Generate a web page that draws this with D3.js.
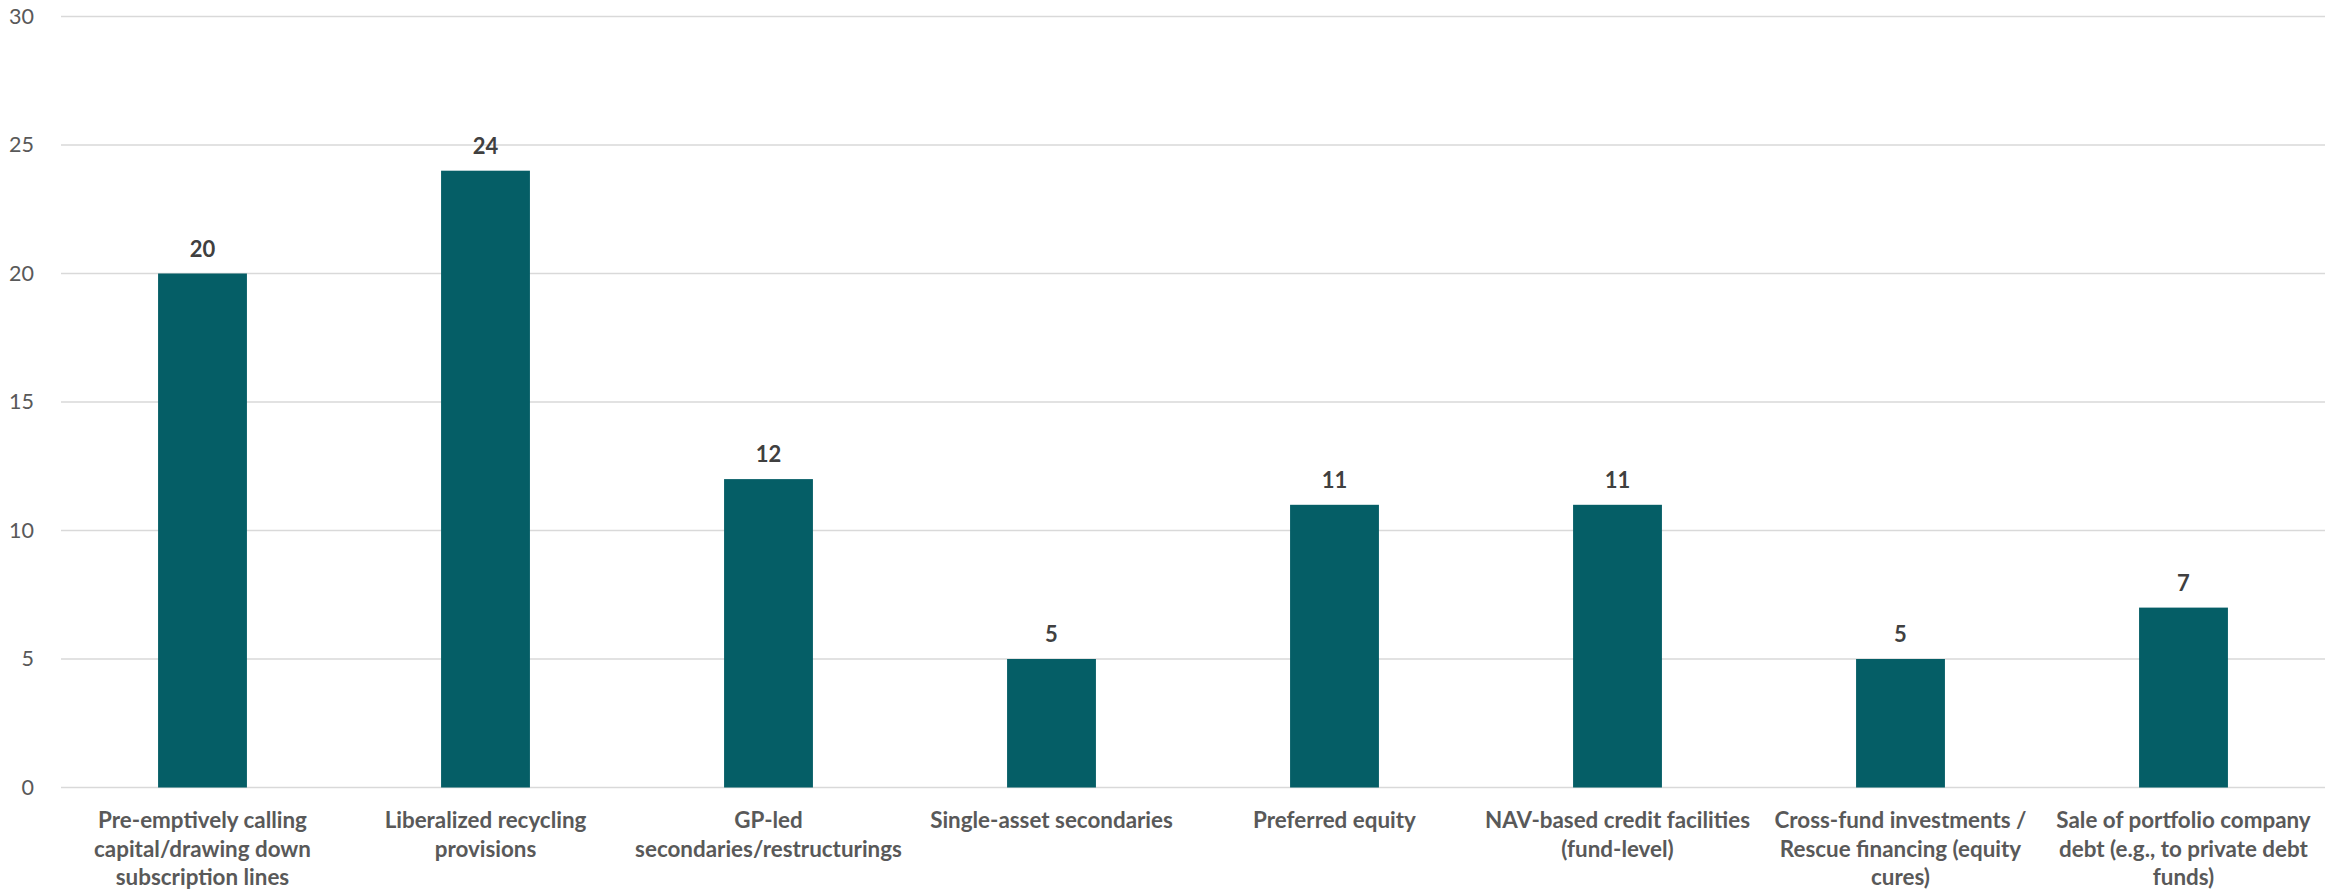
<!DOCTYPE html>
<html>
<head>
<meta charset="utf-8">
<script src="https://cdn.jsdelivr.net/npm/d3@7"></script>
<style>
  body { margin: 0; background: #fff; }
  svg text { font-family: Lato, "Open Sans", sans-serif; }
</style>
</head>
<body>
<div id="chart"></div>
<script>
var width = 2343,
    height = 891,
    margin = {top: 16.5, right: 18, bottom: 103.5, left: 61};

// categories, as wrapped on the axis
var categories = [
  "Pre-emptively calling capital/drawing down subscription lines",
  "Liberalized recycling provisions",
  "GP-led secondaries/restructurings",
  "Single-asset secondaries",
  "Preferred equity",
  "NAV-based credit facilities (fund-level)",
  "Cross-fund investments / Rescue financing (equity cures)",
  "Sale of portfolio company debt (e.g., to private debt funds)"
];
var categoryLines = [
  ["Pre-emptively calling", "capital/drawing down", "subscription lines"],
  ["Liberalized recycling", "provisions"],
  ["GP-led", "secondaries/restructurings"],
  ["Single-asset secondaries"],
  ["Preferred equity"],
  ["NAV-based credit facilities", "(fund-level)"],
  ["Cross-fund investments /", "Rescue financing (equity", "cures)"],
  ["Sale of portfolio company", "debt (e.g., to private debt", "funds)"]
];
var values = [20, 24, 12, 5, 11, 11, 5, 7];
var yTicks = [0, 5, 10, 15, 20, 25, 30];

var innerW = width - margin.left - margin.right,
    innerH = height - margin.top - margin.bottom;

var svg = d3.select("#chart").append("svg")
  .attr("width", width)
  .attr("height", height)
  .append("g")
  .attr("transform", "translate(" + margin.left + "," + margin.top + ")");

var x = d3.scaleBand()
  .domain(categories)
  .range([0, innerW])
  .paddingInner(0.686)
  .paddingOuter(0.343);

var y = d3.scaleLinear()
  .domain([0, 30])
  .range([innerH, 0]);

// gridlines
svg.selectAll("line.grid")
  .data(yTicks)
  .enter()
  .append("line")
  .attr("class", "grid")
  .attr("x1", 0)
  .attr("x2", innerW)
  .attr("y1", function(d){ return y(d); })
  .attr("y2", function(d){ return y(d); })
  .style("stroke", "#d9d9d9")
  .style("stroke-width", 1.5);

// y axis labels
var yAxis = svg.append("g")
  .call(d3.axisLeft(y).tickValues(yTicks).tickSize(0).tickPadding(27));
yAxis.select(".domain").remove();
yAxis.selectAll("text")
  .style("font-size", "21.5px")
  .style("fill", "#595959");

// bars
svg.selectAll("rect.bar")
  .data(values)
  .enter()
  .append("rect")
  .attr("class", "bar")
  .attr("x", function(d, i){ return x(categories[i]); })
  .attr("y", function(d){ return y(d); })
  .attr("width", x.bandwidth())
  .attr("height", function(d){ return innerH - y(d); })
  .style("fill", "#055e66");

// value labels
svg.selectAll("text.val")
  .data(values)
  .enter()
  .append("text")
  .attr("class", "val")
  .attr("x", function(d, i){ return x(categories[i]) + x.bandwidth() / 2; })
  .attr("y", function(d){ return y(d) - 17; })
  .attr("text-anchor", "middle")
  .style("font-size", "22px")
  .style("font-weight", "bold")
  .style("fill", "#404040")
  .text(function(d){ return d; });

// category labels
var xLabels = svg.selectAll("text.cat")
  .data(categoryLines)
  .enter()
  .append("text")
  .attr("class", "cat")
  .attr("text-anchor", "middle")
  .attr("transform", function(d, i){
    return "translate(" + (x(categories[i]) + x.bandwidth() / 2) + "," + (innerH + 40.5) + ")";
  })
  .style("font-size", "22.4px")
  .style("font-weight", "bold")
  .style("fill", "#595959");

xLabels.selectAll("tspan")
  .data(function(d){ return d; })
  .enter()
  .append("tspan")
  .attr("x", 0)
  .attr("y", function(d, i){ return i * 28.5; })
  .text(function(d){ return d; });
</script>
</body>
</html>
